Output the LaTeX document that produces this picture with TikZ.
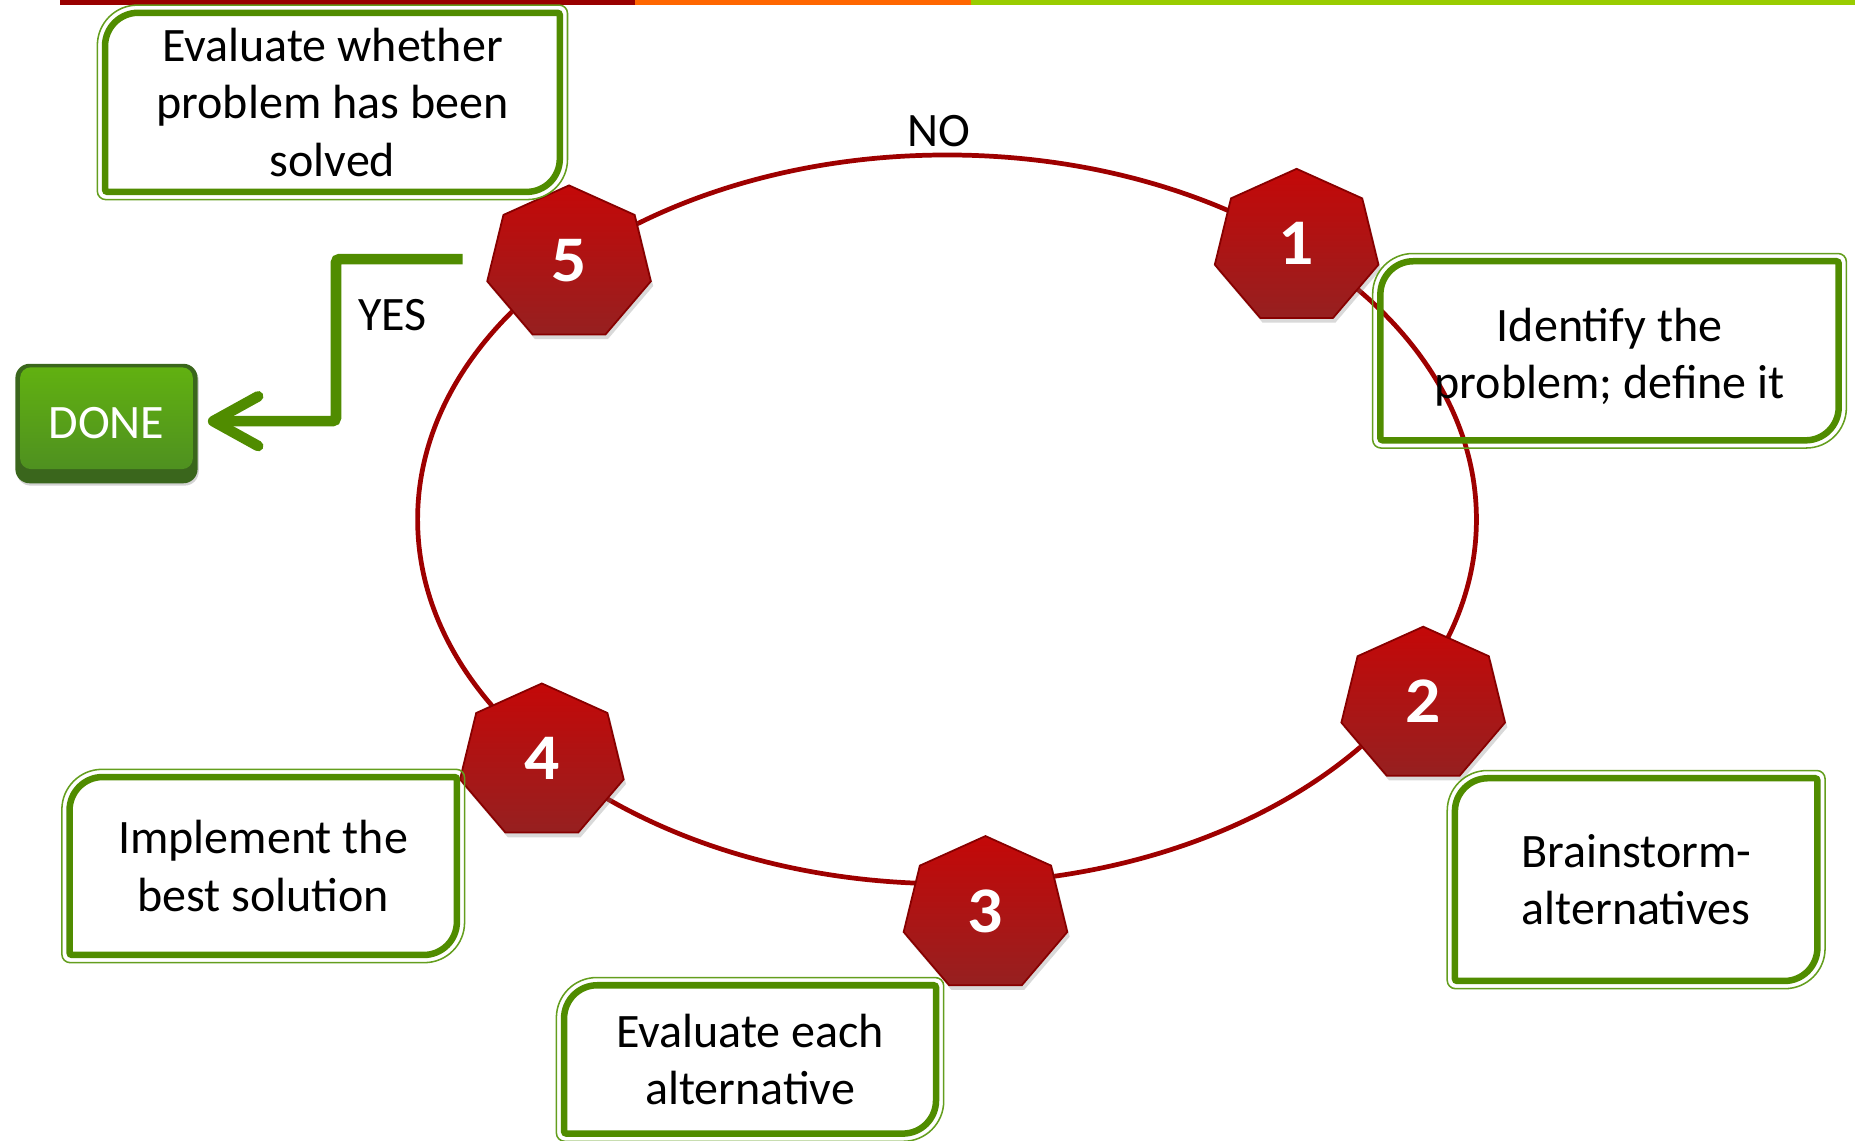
\documentclass[tikz,border=0pt]{standalone}
\usepackage{fontspec}
\setmainfont{Carlito}
\usetikzlibrary{shapes.geometric,shadows}

\definecolor{barred}{RGB}{153,0,0}
\definecolor{barorange}{RGB}{255,102,0}
\definecolor{bargreen}{RGB}{153,204,0}
\definecolor{framegreen}{RGB}{80,140,0}
\definecolor{thingreen}{RGB}{100,158,30}
\definecolor{ringred}{RGB}{158,0,0}
\definecolor{heptop}{RGB}{196,8,8}
\definecolor{hepbot}{RGB}{150,32,32}
\definecolor{hepedge}{RGB}{135,0,0}
\definecolor{donetop}{RGB}{98,178,16}
\definecolor{donebot}{RGB}{76,140,34}
\definecolor{doneband}{RGB}{58,102,28}

\tikzset{
  boxtext/.style={inner sep=0pt, align=center, font=\fontsize{40.6}{48.5}\selectfont},
  thickframe/.style={draw=framegreen, line width=5.5pt},
  thinframe/.style={draw=thingreen, line width=1.3pt},
  stepnum/.style={regular polygon, regular polygon sides=7, minimum size=132.6pt,
    inner sep=0pt, xscale=1.07, top color=heptop, bottom color=hepbot,
    draw=hepedge, line width=1.5pt, text=white, text depth=6pt,
    font=\fontsize{55}{55}\selectfont\bfseries,
    drop shadow={shadow xshift=2pt, shadow yshift=-4pt, opacity=0.3}},
  plaintext/.style={inner sep=0pt, font=\fontsize{40.6}{48}\selectfont},
  arrowline/.style={draw=framegreen, line width=9pt},
}

% double green outline with rounded top-left and bottom-right corners;
% optional argument raises the outline relative to the text node
\newcommand\greenedge[2][0pt]{%
  \draw[thinframe] ([shift={(-6.5pt,0pt)},yshift=#1]#2.west) [rounded corners=34pt]
    -- ([shift={(-6.5pt,6.5pt)},yshift=#1]#2.north west) -- ([shift={(0pt,6.5pt)},yshift=#1]#2.north) [rounded corners=7pt]
    -- ([shift={(6.5pt,6.5pt)},yshift=#1]#2.north east) -- ([shift={(6.5pt,0pt)},yshift=#1]#2.east) [rounded corners=34pt]
    -- ([shift={(6.5pt,-6.5pt)},yshift=#1]#2.south east) -- ([shift={(0pt,-6.5pt)},yshift=#1]#2.south) [rounded corners=7pt]
    -- ([shift={(-6.5pt,-6.5pt)},yshift=#1]#2.south west) -- cycle;
  \draw[thickframe] ([yshift=#1]#2.west) [rounded corners=28pt]
    -- ([yshift=#1]#2.north west) -- ([yshift=#1]#2.north) [rounded corners=2pt]
    -- ([yshift=#1]#2.north east) -- ([yshift=#1]#2.east) [rounded corners=28pt]
    -- ([yshift=#1]#2.south east) -- ([yshift=#1]#2.south) [rounded corners=2pt]
    -- ([yshift=#1]#2.south west) -- cycle;
}

\begin{document}
\begin{tikzpicture}[x={(1pt,0pt)}, y={(0pt,-1pt)}]
  \useasboundingbox (0,0) rectangle (1568,964);

  % coloured strip along the top edge
  \fill[barred] (51,0) rectangle (537,4);
  \fill[barorange] (537,0) rectangle (821,4);
  \fill[bargreen] (821,0) rectangle (1568,4);

  % the cycle
  \node[ellipse, draw=ringred, line width=4pt, minimum width=895pt,
        minimum height=616pt, inner sep=0pt] (ring) at (800.5,439) {};

  % numbered steps
  \node[stepnum] (h1) at (1096,209) {1};
  \node[stepnum] (h2) at (1203,596) {2};
  \node[stepnum] (h3) at (833,773) {3};
  \node[stepnum] (h4) at (458,644) {4};
  \node[stepnum] (h5) at (481,223) {5};

  % step descriptions
  \node[boxtext, minimum width=384pt, minimum height=151pt] (b5) at (281,86.5)
    {Evaluate whether\\problem has been\\solved};
  \node[boxtext, minimum width=387pt, minimum height=151pt] (b1) at (1360.5,302)
    {Identify the\\problem; define it};
  \node[boxtext, minimum width=306pt, minimum height=171pt] (b2) at (1383,743.5)
    {Brainstorm-\\alternatives};
  \node[boxtext, minimum width=314pt, minimum height=125pt] (b3) at (634,895.5)
    {Evaluate each\\alternative};
  \node[boxtext, minimum width=327pt, minimum height=150pt] (b4) at (222.5,732)
    {Implement the\\best solution};
  \greenedge{b5}
  \greenedge[5.5pt]{b1}
  \greenedge{b2}
  \greenedge{b3}
  \greenedge{b4}

  % exit button
  \node[rounded corners=12pt, minimum width=154pt, minimum height=101pt, inner sep=0pt,
        fill=doneband, text=white, font=\fontsize{40.6}{48}\selectfont,
        drop shadow={shadow xshift=1pt, shadow yshift=-2pt, opacity=0.35},
        path picture={\fill[rounded corners=9pt, top color=donetop, bottom color=donebot]
          ([shift={(4pt,-3pt)}]path picture bounding box.north west) rectangle
          ([shift={(-4pt,12pt)}]path picture bounding box.south east);}]
    (done) at (90,358) {DONE};

  % YES branch
  \coordinate (yesfrom) at (391,219);
  \coordinate (tip) at ([xshift=13pt,yshift=2pt]done.east);
  \draw[arrowline, rounded corners=3pt] (yesfrom) -- (284,219) |- (tip);
  \draw[arrowline, line cap=round, line join=round]
    ([shift={(38,-21)}]tip) -- (tip) -- ([shift={(38,21)}]tip);

  \node[plaintext] (yes) at (332,266) {YES};
  \node[plaintext] (no) at (794,111) {NO};
\end{tikzpicture}
\end{document}
